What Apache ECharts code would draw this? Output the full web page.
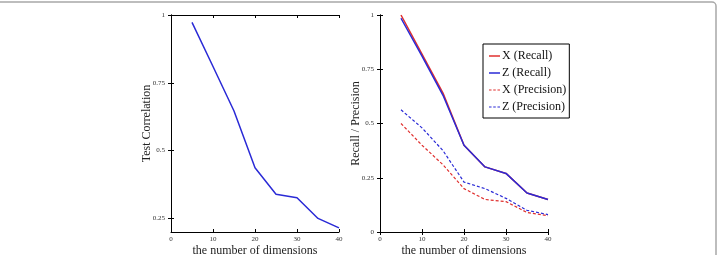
<!DOCTYPE html>
<html>
<head>
<meta charset="utf-8">
<script src="https://cdn.jsdelivr.net/npm/echarts@6/dist/echarts.min.js"></script>
<style>
html,body{margin:0;padding:0;background:#fff;}
#main{width:718px;height:255px;}
</style>
</head>
<body>
<div id="main"></div>
<script>
// dimensions on the x axis
var dims = [5, 10, 15, 20, 25, 30, 35, 40];

// left panel
var testCorr = [0.973, 0.81, 0.646, 0.437, 0.339, 0.326, 0.25, 0.215];
var leftTicks = [0.25, 0.5, 0.75, 1];

// right panel
var xRecall = [1.0, 0.82, 0.64, 0.40, 0.30, 0.27, 0.18, 0.15];
var zRecall = [0.985, 0.81, 0.63, 0.40, 0.30, 0.27, 0.18, 0.15];
var xPrecision = [0.50, 0.40, 0.31, 0.20, 0.15, 0.14, 0.09, 0.075];
var zPrecision = [0.563, 0.48, 0.375, 0.23, 0.20, 0.155, 0.10, 0.08];
var legendNames = ['X (Recall)', 'Z (Recall)', 'X (Precision)', 'Z (Precision)'];

var BLUE = '#2a2ad6', RED = '#e0302f';
var serif = 'Liberation Serif';
var SOLID = 'rect';
var DASHED = 'path://M0,0H3V1H0ZM5,0H8V1H5ZM10,0H13V1H10Z';

function pairs(ys) {
    var out = [];
    for (var i = 0; i < dims.length; i++) out.push([dims[i], ys[i]]);
    return out;
}

function fmt(v) {
    return String(Math.round(v * 100) / 100);
}

var tickStyle = {show: true, inside: true, length: 3, lineStyle: {color: '#000'}};
var lineStyle = {show: true, lineStyle: {color: '#000', width: 1}};
var labelStyle = {fontFamily: serif, fontSize: 7, color: '#333'};
var nameStyle = {fontFamily: serif, fontSize: 12, color: '#222'};

function xAxes(grid) {
    return [{
        gridIndex: grid, type: 'value', min: 0, max: 40, interval: 10,
        position: 'bottom',
        axisLine: lineStyle, axisTick: tickStyle, splitLine: {show: false},
        axisLabel: Object.assign({margin: 4}, labelStyle),
        name: 'the number of dimensions', nameLocation: 'middle', nameGap: 13,
        nameMoveOverlap: false,
        nameTextStyle: nameStyle
    }, {
        gridIndex: grid, type: 'value', min: 0, max: 40, interval: 10,
        position: 'top',
        axisLine: lineStyle, axisTick: tickStyle, splitLine: {show: false},
        axisLabel: {show: false}
    }];
}

var option = {
    animation: false,
    backgroundColor: '#fff',
    grid: [
        {left: 171, top: 15, width: 168, height: 217, outerBoundsMode: 'none'},
        {left: 380, top: 15, width: 168, height: 217, outerBoundsMode: 'none'}
    ],
    xAxis: xAxes(0).concat(xAxes(1)),
    yAxis: [{
        gridIndex: 0, type: 'value', min: 0.2, max: 1, position: 'left',
        axisLine: lineStyle, splitLine: {show: false},
        axisTick: Object.assign({customValues: leftTicks}, tickStyle),
        axisLabel: Object.assign({customValues: leftTicks, margin: 6, formatter: fmt}, labelStyle),
        name: 'Test Correlation', nameLocation: 'middle', nameGap: 18, nameRotate: 90,
        nameMoveOverlap: false, nameTextStyle: nameStyle
    }, {
        gridIndex: 0, type: 'value', min: 0.2, max: 1, position: 'right',
        axisLine: lineStyle, splitLine: {show: false},
        axisTick: Object.assign({customValues: leftTicks}, tickStyle),
        axisLabel: {show: false}
    }, {
        gridIndex: 1, type: 'value', min: 0, max: 1, interval: 0.25, position: 'left',
        axisLine: lineStyle, splitLine: {show: false}, axisTick: tickStyle,
        axisLabel: Object.assign({margin: 6, formatter: fmt}, labelStyle),
        name: 'Recall / Precision', nameLocation: 'middle', nameGap: 18, nameRotate: 90,
        nameMoveOverlap: false, nameTextStyle: nameStyle
    }, {
        gridIndex: 1, type: 'value', min: 0, max: 1, interval: 0.25, position: 'right',
        axisLine: lineStyle, splitLine: {show: false}, axisTick: tickStyle,
        axisLabel: {show: false}
    }],
    legend: {
        data: [
            {name: legendNames[0], icon: SOLID},
            {name: legendNames[1], icon: SOLID},
            {name: legendNames[2], icon: DASHED},
            {name: legendNames[3], icon: DASHED}
        ],
        orient: 'vertical',
        left: 483, top: 44,
        backgroundColor: '#fff',
        borderColor: '#000', borderWidth: 1, borderRadius: 0,
        padding: [5, 3, 4, 6],
        itemGap: 3, itemWidth: 11, itemHeight: 1.5,
        textStyle: {fontFamily: serif, fontSize: 12, lineHeight: 14, color: '#111', padding: [0, 0, 0, -3]}
    },
    series: [{
        name: 'Test Correlation', type: 'line', xAxisIndex: 0, yAxisIndex: 0,
        data: pairs(testCorr), symbol: 'none',
        lineStyle: {color: BLUE, width: 1.5}, itemStyle: {color: BLUE}
    }, {
        name: legendNames[0], type: 'line', xAxisIndex: 2, yAxisIndex: 2,
        data: pairs(xRecall), symbol: 'none',
        lineStyle: {color: RED, width: 1.5}, itemStyle: {color: RED}
    }, {
        name: legendNames[1], type: 'line', xAxisIndex: 2, yAxisIndex: 2,
        data: pairs(zRecall), symbol: 'none',
        lineStyle: {color: BLUE, width: 1.5}, itemStyle: {color: BLUE}
    }, {
        name: legendNames[2], type: 'line', xAxisIndex: 2, yAxisIndex: 2,
        data: pairs(xPrecision), symbol: 'none',
        lineStyle: {color: RED, width: 1.2, type: [3, 2]}, itemStyle: {color: RED}
    }, {
        name: legendNames[3], type: 'line', xAxisIndex: 2, yAxisIndex: 2,
        data: pairs(zPrecision), symbol: 'none',
        lineStyle: {color: BLUE, width: 1.2, type: [3, 2]}, itemStyle: {color: BLUE}
    }],
    // page border seen at the top and right of the picture
    graphic: [{
        type: 'rect', silent: true, z: -1,
        shape: {x: -10, y: 2, width: 726, height: 300, r: 4},
        style: {fill: null, stroke: '#a8a8a8', lineWidth: 1.5}
    }]
};

var chart = echarts.init(document.getElementById('main'));
chart.setOption(option);
</script>
</body>
</html>
